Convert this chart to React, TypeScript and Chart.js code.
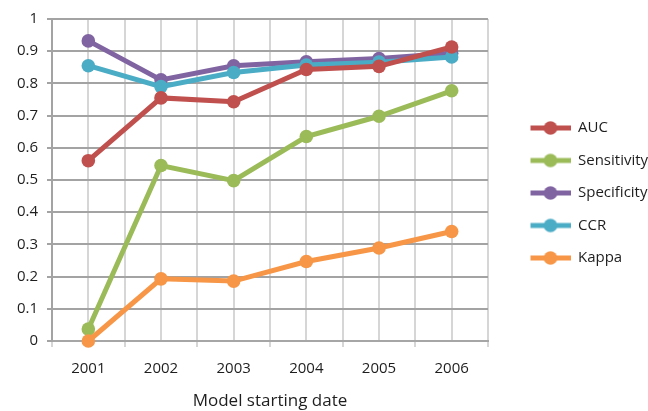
import React, { useEffect, useRef } from 'react';
import { Chart, registerables } from 'chart.js';

Chart.register(...registerables);

const years = ['2001', '2002', '2003', '2004', '2005', '2006'];
const auc = [0.56, 0.755, 0.743, 0.843, 0.853, 0.913];
const sensitivity = [0.037, 0.545, 0.498, 0.635, 0.698, 0.777];
const specificity = [0.932, 0.811, 0.855, 0.867, 0.877, 0.894];
const ccr = [0.855, 0.79, 0.834, 0.857, 0.866, 0.882];
const kappa = [0, 0.193, 0.186, 0.247, 0.289, 0.34];

const seriesNames = ['AUC', 'Sensitivity', 'Specificity', 'CCR', 'Kappa'];
const seriesValues = [auc, sensitivity, specificity, ccr, kappa];
const seriesColors = ['#C0504D', '#9BBB59', '#8064A2', '#4BACC6', '#F79646'];
const seriesOrder = [0, 4, 3, 2, 1];

const yMin = 0;
const yMax = 1;
const yStep = 0.1;
const xTitle = 'Model starting date';

const FONT = "'Open Sans', 'DejaVu Sans', sans-serif";
const TEXT = '#1e1e1e';
const CANVAS_W = 650;
const CANVAS_H = 411;
const LEGEND_W = 162;
const ICON_W = 65;

function makeLegendIcon(color: string) {
  const c = document.createElement('canvas');
  c.width = ICON_W;
  c.height = 16;
  const ctx = c.getContext('2d')!;
  const x0 = ICON_W - 40;
  ctx.strokeStyle = color;
  ctx.lineWidth = 5;
  ctx.beginPath();
  ctx.moveTo(x0, 8);
  ctx.lineTo(ICON_W, 8);
  ctx.stroke();
  ctx.fillStyle = color;
  ctx.beginPath();
  ctx.arc(x0 + 20, 8, 6.8, 0, Math.PI * 2);
  ctx.fill();
  return c;
}

export default function App() {
  const ref = useRef<HTMLCanvasElement | null>(null);

  useEffect(() => {
    if (!ref.current) return;
    const icons = seriesColors.map(makeLegendIcon);
    const chart = new Chart(ref.current, {
      type: 'line',
      data: {
        labels: years,
        datasets: seriesNames.map((name, i) => ({
          label: name,
          data: seriesValues[i],
          borderColor: seriesColors[i],
          backgroundColor: seriesColors[i],
          pointBackgroundColor: seriesColors[i],
          pointBorderColor: seriesColors[i],
          pointBorderWidth: 0,
          pointRadius: 6.8,
          borderWidth: 5,
          tension: 0,
          order: seriesOrder[i],
          clip: false as any,
          xAxisID: 'x',
          yAxisID: 'y',
        })),
      },
      options: {
        animation: false,
        responsive: true,
        maintainAspectRatio: false,
        layout: { padding: { top: 19, left: 0, right: 0, bottom: 0 } },
        plugins: {
          tooltip: { enabled: false },
          legend: {
            position: 'right',
            fullSize: false,
            align: 'center',
            maxWidth: LEGEND_W,
            title: {
              display: true,
              text: ' ',
              font: { size: 10, lineHeight: 1 },
              padding: { top: 16, bottom: 0 },
            },
            labels: {
              usePointStyle: true,
              pointStyleWidth: ICON_W,
              padding: 17.5,
              color: TEXT,
              font: { family: FONT, size: 15 },
              generateLabels: (ch: any) =>
                ch.data.datasets.map((ds: any, i: number) => ({
                  text: ds.label,
                  fillStyle: ds.borderColor,
                  strokeStyle: ds.borderColor,
                  lineWidth: 0,
                  pointStyle: icons[i],
                  datasetIndex: i,
                  hidden: false,
                  fontColor: TEXT,
                })),
            },
          },
        },
        scales: {
          x: {
            type: 'category',
            offset: true,
            grid: { offset: true, color: '#d6d6d6', lineWidth: 2, tickLength: 6, z: -2 },
            border: { color: '#a6a6a6', width: 2 },
            ticks: { color: TEXT, font: { family: FONT, size: 15 }, padding: 13, maxRotation: 0 },
            title: {
              display: true,
              text: xTitle,
              color: TEXT,
              font: { family: FONT, size: 17 },
              padding: { top: 4, bottom: 0 },
            },
            afterFit: (s: any) => {
              s.height = 70;
            },
          },
          x2: {
            type: 'category',
            position: 'top',
            labels: years,
            offset: true,
            grid: { offset: false, color: '#d6d6d6', lineWidth: 2, drawTicks: false, z: -2 },
            border: { display: false },
            ticks: { display: false },
          },
          y: {
            type: 'linear',
            min: yMin,
            max: yMax,
            grid: { color: '#a3a3a3', lineWidth: 2, tickLength: 5, z: -1 },
            border: { color: '#a3a3a3', width: 2 },
            ticks: {
              stepSize: yStep,
              color: TEXT,
              font: { family: FONT, size: 15 },
              padding: 9,
              callback: (v: any) => String(Math.round(Number(v) * 10) / 10),
            },
            afterFit: (s: any) => {
              s.width = 52;
            },
          },
        },
      } as any,
    });
    return () => chart.destroy();
  }, []);

  return (
    <div
      style={{
        position: 'fixed',
        left: 0,
        top: 0,
        width: 648,
        height: 411,
        overflow: 'hidden',
        background: '#fff',
      }}
    >
      <div style={{ position: 'relative', width: CANVAS_W, height: CANVAS_H }}>
        <canvas ref={ref} />
      </div>
    </div>
  );
}
